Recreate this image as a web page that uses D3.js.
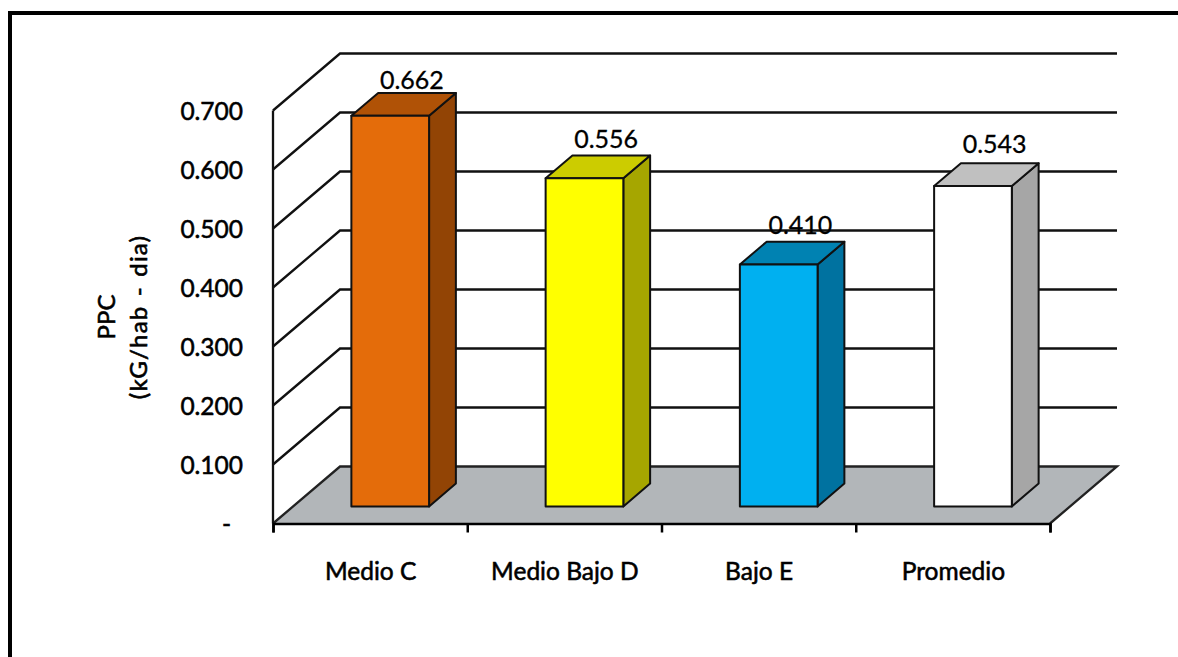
<!DOCTYPE html>
<html>
<head>
<meta charset="utf-8">
<script src="https://cdn.jsdelivr.net/npm/d3@7/dist/d3.min.js"></script>
<style>
  html, body { margin: 0; padding: 0; background: #fff; }
  svg { display: block; }
  text { font-family: Lato, "Open Sans", sans-serif; fill: #000; }
  .axis-label { font-size: 24.5px; font-weight: 400; stroke: #000; stroke-width: 0.55px; }
  .data-label { font-size: 25px; font-weight: 400; stroke: #000; stroke-width: 0.3px; }
  .title-line { font-size: 24px; font-weight: 400; stroke: #000; stroke-width: 0.6px; }
</style>
</head>
<body>
<svg id="chart" width="1178" height="657"></svg>
<script>
// Per-capita generation by socioeconomic stratum
const categories = ["Medio C", "Medio Bajo D", "Bajo E", "Promedio"];
const values = [0.662, 0.556, 0.410, 0.543];
const valueLabels = ["0.662", "0.556", "0.410", "0.543"];
const yTicks = [0, 0.1, 0.2, 0.3, 0.4, 0.5, 0.6, 0.7];
const yTickLabels = ["-", "0.100", "0.200", "0.300", "0.400", "0.500", "0.600", "0.700"];
const axisTitle = ["PPC", "(kG/hab - dia)"];

// Face colours of each column: front, side, top
const frontColors = ["#E46C0A", "#FFFF00", "#00B0F0", "#FFFFFF"];
const sideColors = ["#924405", "#A6A600", "#0072A0", "#A6A6A6"];
const topColors = ["#B05206", "#CCCC00", "#0082B2", "#C0C0C0"];

// Hand-tuned distance of each value label above its column
const labelGaps = [27, 30, 31, 33];

// Oblique projection of the chart box
const left = 273, right = 1050, floorY = 523.5, topY = 110.5;
const depthX = 67, depthY = 57;
const barFrontDepth = 0.3, barBackDepth = 0.7, barBandShare = 0.4;

const x = d3.scaleBand().domain(categories).range([left, right]);
const y = d3.scaleLinear().domain([0, 0.7]).range([floorY, topY]);
const project = (px, py, depth) => [px + depth * depthX, py - depth * depthY];
const outline = pts => d3.line()(pts) + "Z";

const svg = d3.select("#chart");

// Outer frame, running off the right and bottom edges
svg.append("rect").attr("x", 10).attr("y", 13).attr("width", 1300).attr("height", 800)
  .attr("fill", "#fff").attr("stroke", "#000").attr("stroke-width", 4);

// Back wall and side wall gridlines
const grid = svg.append("g").attr("fill", "none").attr("stroke", "#111").attr("stroke-width", 2.3);
yTicks.filter(t => t > 0).forEach(t => {
  grid.append("path").attr("d", d3.line()([
    [left, y(t)], project(left, y(t), 1), project(right, y(t), 1)
  ]));
});

// Floor
svg.append("path")
  .attr("d", outline([[left, y(0)], [right, y(0)], project(right, y(0), 1), project(left, y(0), 1)]))
  .attr("fill", "#B2B6B9");
svg.append("path")
  .attr("d", d3.line()([[left, y(0)], project(left, y(0), 1), project(right, y(0), 1), [right, y(0)]]))
  .attr("fill", "none").attr("stroke", "#222").attr("stroke-width", 2.3);

// Left edge of the wall
svg.append("line").attr("x1", left).attr("x2", left).attr("y1", y(0)).attr("y2", y(0.7))
  .attr("stroke", "#111").attr("stroke-width", 2.3);

// Horizontal axis with its outer ticks at the band edges
const xEdges = d3.range(categories.length + 1).map(i => left + i * x.step());
const xAxisScale = d3.scaleLinear().domain([left, right]).range([left, right]);
const xAxis = svg.append("g").attr("transform", `translate(0,${floorY})`)
  .call(d3.axisBottom(xAxisScale).tickValues(xEdges).tickSize(9).tickFormat(""));
xAxis.selectAll("path, line").attr("stroke", "#000").attr("stroke-width", 2.5);

svg.append("g").selectAll("text").data(categories).join("text")
  .attr("class", "axis-label")
  .attr("x", d => x(d) + x.bandwidth() / 2 + 0.5)
  .attr("y", 580)
  .attr("text-anchor", "middle")
  .text(d => d);

// Vertical axis labels
const yAxis = svg.append("g").attr("transform", `translate(${left},0)`)
  .call(d3.axisLeft(y).tickValues(yTicks).tickSize(0).tickPadding(30)
    .tickFormat((d, i) => yTickLabels[i]));
yAxis.select(".domain").remove();
yAxis.attr("font-family", null).attr("font-size", null);
yAxis.selectAll("text").attr("class", "axis-label").attr("dy", null).attr("y", 9);
yAxis.selectAll("text").filter(d => d === 0).attr("x", -42);

// Axis title, two stacked rotated lines
const title = svg.append("g").attr("transform", "translate(0,317) rotate(-90)");
axisTitle.forEach((line, i) => {
  title.append("text").attr("class", "title-line")
    .attr("x", 0).attr("y", 115 + i * 32)
    .attr("text-anchor", "middle")
    .style("letter-spacing", i ? "1.2px" : null)
    .style("word-spacing", i ? "2px" : null)
    .text(line);
});

// Columns
const bars = svg.append("g").attr("stroke", "#111").attr("stroke-width", 2).attr("stroke-linejoin", "round");
categories.forEach((c, i) => {
  const w = x.bandwidth() * barBandShare;
  const x0 = x(c) + (x.bandwidth() - w) / 2;
  const x1 = x0 + w;
  const [fl, fb] = project(x0, y(0), barFrontDepth);
  const [fr] = project(x1, y(0), barFrontDepth);
  const h = y(0) - y(values[i]);
  const ft = fb - h;
  const dx = (barBackDepth - barFrontDepth) * depthX;
  const dy = (barBackDepth - barFrontDepth) * depthY;

  bars.append("path").attr("fill", sideColors[i])
    .attr("d", outline([[fr, fb], [fr + dx, fb - dy], [fr + dx, ft - dy], [fr, ft]]));
  bars.append("path").attr("fill", topColors[i])
    .attr("d", outline([[fl, ft], [fl + dx, ft - dy], [fr + dx, ft - dy], [fr, ft]]));
  bars.append("rect").attr("fill", frontColors[i])
    .attr("x", fl).attr("y", ft).attr("width", w).attr("height", h);

  svg.append("text").attr("class", "data-label")
    .attr("x", fl + 60.5).attr("y", ft - labelGaps[i])
    .attr("text-anchor", "middle").text(valueLabels[i]);
});
</script>
</body>
</html>
